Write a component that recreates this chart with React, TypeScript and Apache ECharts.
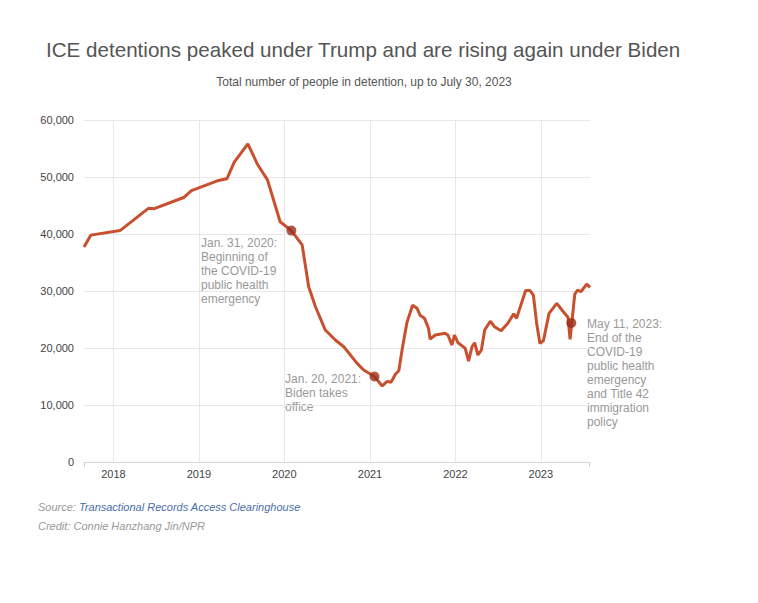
import React, { useEffect, useRef } from 'react';
import * as echarts from 'echarts';

// ---- Data ----
const dates: string[] = [
  '2017-08-28', '2017-09-26', '2018-01-29', '2018-05-30', '2018-06-24', '2018-10-28',
  '2018-11-30', '2019-03-26', '2019-05-01', '2019-06-01', '2019-07-29', '2019-09-10',
  '2019-10-21', '2019-12-14', '2020-01-31', '2020-03-17', '2020-04-14', '2020-05-13',
  '2020-06-24', '2020-08-06', '2020-09-11', '2020-11-07', '2020-12-05', '2021-01-20',
  '2021-02-22', '2021-03-15', '2021-04-01', '2021-04-20', '2021-05-04', '2021-05-18',
  '2021-06-08', '2021-07-02', '2021-07-21', '2021-08-04', '2021-08-22', '2021-09-08',
  '2021-09-15', '2021-10-07', '2021-11-18', '2021-11-30', '2021-12-17', '2021-12-28',
  '2022-01-12', '2022-02-12', '2022-02-26', '2022-03-13', '2022-03-24', '2022-04-07',
  '2022-04-22', '2022-05-06', '2022-05-30', '2022-06-17', '2022-07-15', '2022-08-13',
  '2022-09-07', '2022-09-19', '2022-10-28', '2022-11-15', '2022-11-30', '2022-12-14',
  '2022-12-28', '2023-01-12', '2023-02-05', '2023-03-10', '2023-04-07', '2023-04-27',
  '2023-05-06', '2023-05-26', '2023-06-07', '2023-06-21', '2023-07-16', '2023-07-30',
];
const detained: number[] = [
  37700, 39800, 40600, 44500, 44450, 46400,
  47600, 49400, 49700, 52600, 55800, 52100,
  49500, 42150, 40600, 38100, 30750, 27240,
  23150, 21400, 20220, 17310, 16140, 15000,
  13330, 14150, 14000, 15430, 16000, 19650,
  24500, 27500, 26960, 25700, 25200, 23450,
  21550, 22280, 22570, 22280, 20520, 22280,
  20920, 19940, 17700, 20220, 20920, 18770,
  19650, 23150, 24700, 23730, 23030, 24330,
  26000, 25200, 30100, 30100, 29290, 24330,
  20800, 21280, 26080, 27830, 26360, 25380,
  21500, 29470, 30170, 29870, 31220, 30640,
];

const eventDates: string[] = ['2020-01-31', '2021-01-20', '2023-05-11'];
const eventValues: number[] = [40600, 15000, 24400];
const eventLabels: string[] = [
  'Jan. 31, 2020:\nBeginning of\nthe COVID-19\npublic health\nemergency',
  'Jan. 20, 2021:\nBiden takes\noffice',
  'May 11, 2023:\nEnd of the\nCOVID-19\npublic health\nemergency\nand Title 42\nimmigration\npolicy',
];

const titleText = 'ICE detentions peaked under Trump and are rising again under Biden';
const subtitleText = 'Total number of people in detention, up to July 30, 2023';

const FONT = '"Liberation Sans", Arial, Helvetica, sans-serif';

export default function App() {
  const ref = useRef<HTMLDivElement>(null);

  useEffect(() => {
    if (!ref.current) return;
    const chart = echarts.init(ref.current, undefined, { renderer: 'svg' });

    const lineData = dates.map((d, i) => [d, detained[i]]);
    const eventData = eventDates.map((d, i) => [d, eventValues[i]]);

    const annoPos = [
      { x: 201, y: 236 },
      { x: 285, y: 372 },
      { x: 587, y: 317 },
    ];

    chart.setOption({
      animation: false,
      textStyle: { fontFamily: FONT },
      grid: { left: 84, right: 168, top: 120, bottom: 141, containLabel: false },
      xAxis: {
        type: 'time',
        min: dates[0],
        max: dates[dates.length - 1],
        splitNumber: 6,
        axisLine: { show: true, lineStyle: { color: '#d6d6d6', width: 1 } },
        axisTick: { show: false },
        splitLine: {
          show: true,
          showMinLine: false,
          showMaxLine: false,
          lineStyle: { color: '#e8e8e8', width: 1 },
        },
        axisLabel: {
          color: '#444',
          fontSize: 11,
          fontFamily: FONT,
          fontWeight: 'normal',
          margin: 6,
          showMinLabel: false,
          showMaxLabel: false,
          formatter: (v: number) => {
            const d = new Date(v);
            return d.getMonth() === 0 && d.getDate() === 1 ? String(d.getFullYear()) : '';
          },
        },
      },
      yAxis: {
        type: 'value',
        min: 0,
        max: 60000,
        interval: 10000,
        axisLine: { show: false },
        axisTick: { show: false },
        splitLine: { show: true, lineStyle: { color: '#e8e8e8', width: 1 } },
        axisLabel: {
          color: '#444',
          fontSize: 11,
          fontFamily: FONT,
          margin: 10,
          formatter: (v: number) => v.toLocaleString('en-US'),
        },
      },
      series: [
        {
          type: 'line',
          data: lineData,
          showSymbol: false,
          symbol: 'none',
          lineStyle: { color: '#c8502f', width: 3 },
          z: 3,
        },
        {
          type: 'scatter',
          data: eventData,
          symbol: 'circle',
          symbolSize: 10,
          itemStyle: { color: '#98301d' },
          z: 4,
        },
      ],
      graphic: [
        {
          type: 'line',
          shape: { x1: 84.5, y1: 462, x2: 84.5, y2: 467 },
          style: { stroke: '#d0d0d0', lineWidth: 1 },
        },
        {
          type: 'line',
          shape: { x1: 589.5, y1: 462, x2: 589.5, y2: 467 },
          style: { stroke: '#d0d0d0', lineWidth: 1 },
        },
        {
          type: 'text',
          x: 46,
          y: 49,
          style: {
            text: titleText,
            fontSize: 20.6,
            fontFamily: FONT,
            fill: '#555',
            verticalAlign: 'middle',
            align: 'left',
          },
        },
        {
          type: 'text',
          x: 364,
          y: 82,
          style: {
            text: subtitleText,
            fontSize: 12,
            fontFamily: FONT,
            fill: '#555',
            verticalAlign: 'middle',
            align: 'center',
          },
        },
        ...eventLabels.map((t, i) => ({
          type: 'text',
          x: annoPos[i].x,
          y: annoPos[i].y,
          style: {
            text: t,
            fontSize: 12,
            lineHeight: 14,
            fontFamily: FONT,
            fill: '#999',
            align: 'left',
            verticalAlign: 'top',
          },
        })),
        {
          type: 'text',
          x: 38,
          y: 507,
          style: {
            text: '{g|Source: }{b|Transactional Records Access Clearinghouse}',
            fontSize: 11,
            fontStyle: 'italic',
            fontFamily: FONT,
            verticalAlign: 'middle',
            rich: {
              g: { fill: '#999', fontSize: 11, fontStyle: 'italic', fontFamily: FONT },
              b: { fill: '#4a6ea8', fontSize: 11, fontStyle: 'italic', fontFamily: FONT },
            },
          },
        },
        {
          type: 'text',
          x: 38,
          y: 526,
          style: {
            text: 'Credit: Connie Hanzhang Jin/NPR',
            fontSize: 11,
            fontStyle: 'italic',
            fontFamily: FONT,
            fill: '#999',
            verticalAlign: 'middle',
          },
        },
      ],
    });

    return () => chart.dispose();
  }, []);

  return (
    <div
      ref={ref}
      style={{ position: 'fixed', left: 0, top: 0, width: 758, height: 603, background: '#fff' }}
    />
  );
}
